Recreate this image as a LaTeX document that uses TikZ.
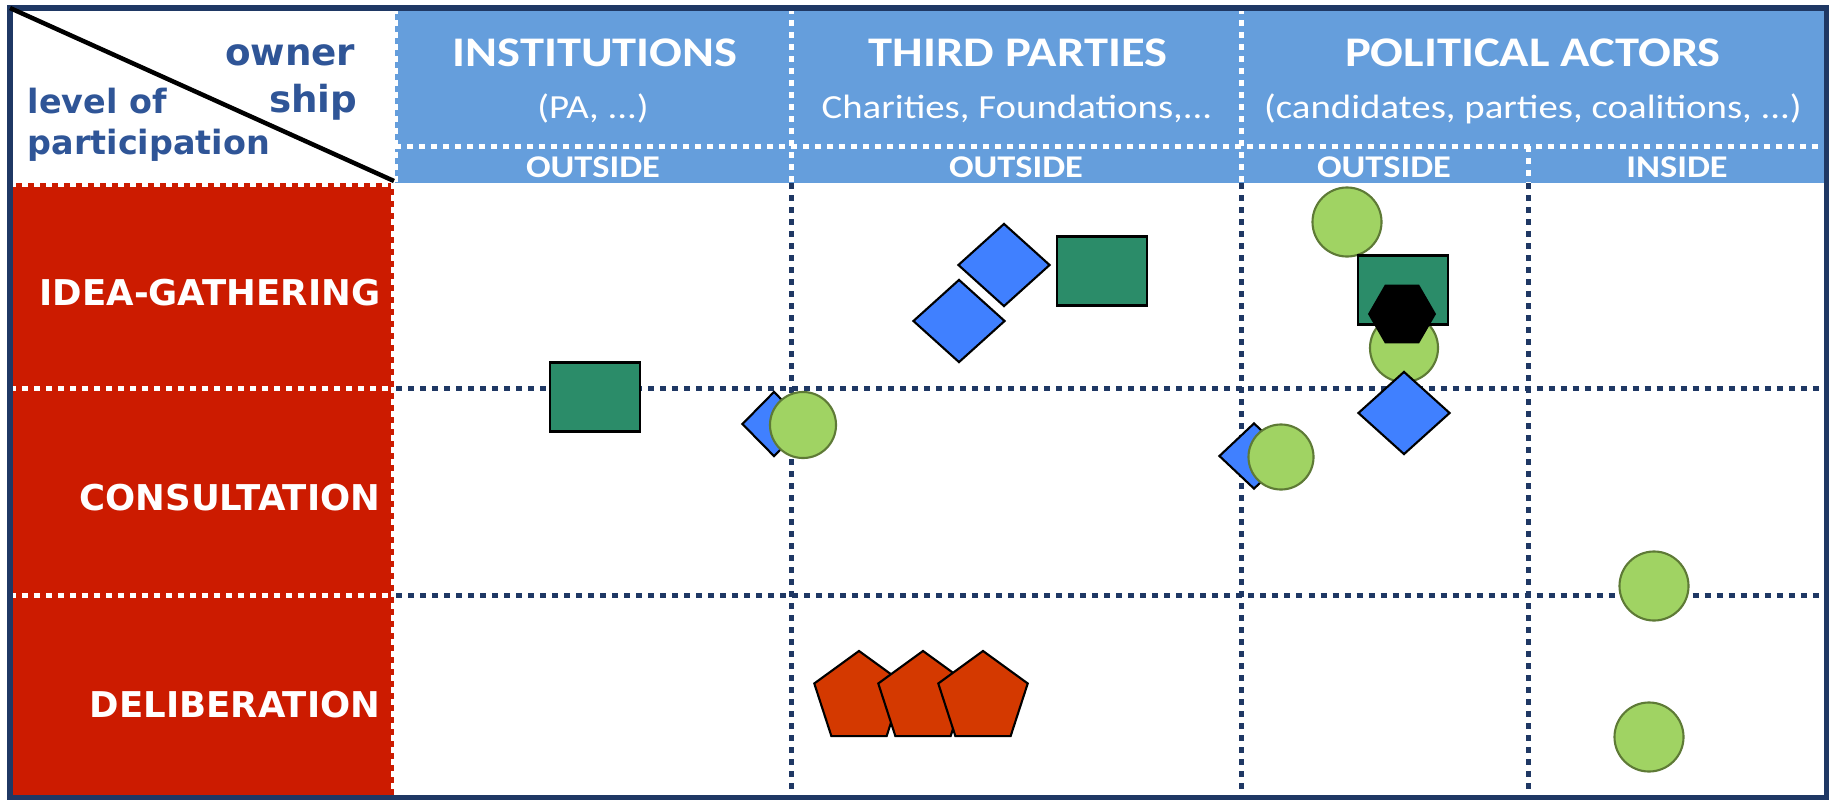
\documentclass[tikz,border=0pt]{standalone}
\usepackage{fontspec}
\usetikzlibrary{shapes.geometric}
\newfontfamily\vfont{DejaVu Sans}
\newfontfamily\cfont[FakeStretch=1.15]{Carlito}

\definecolor{marco}{HTML}{1F3864}
\definecolor{cabecera}{HTML}{659EDC}
\definecolor{rojo}{HTML}{CC1B00}
\definecolor{titulo}{HTML}{2F5597}
\definecolor{verdeosc}{HTML}{2B8C69}
\definecolor{azul}{HTML}{4080FF}
\definecolor{verde}{HTML}{A0D363}
\definecolor{oliva}{HTML}{5E7A36}
\definecolor{naranja}{HTML}{D43900}

\tikzset{
	puntos/.style={line width=0.05cm, dash pattern=on 0.06cm off 0.06cm},
	rect/.style={draw=black, fill=verdeosc, line width=0.6pt, minimum width=0.9cm, minimum height=0.69cm, inner sep=0pt},
	rombo/.style={diamond, draw=black, fill=azul, line width=0.6pt, minimum width=0.92cm, minimum height=0.83cm, inner sep=0pt},
	circ/.style={circle, draw=oliva, fill=verde, line width=0.6pt, minimum size=0.69cm, inner sep=0pt},
	hexa/.style={regular polygon, regular polygon sides=6, fill=black, minimum size=0.68cm, inner sep=0pt},
	penta/.style={regular polygon, regular polygon sides=5, draw=black, fill=naranja, line width=0.6pt, minimum size=0.94cm, inner sep=0pt},
	cab/.style={text=white, font=\cfont\bfseries\fontsize{12}{14}\selectfont, anchor=base},
	sub/.style={text=white, font=\cfont\fontsize{9.6}{11}\selectfont, anchor=base},
	lado/.style={text=white, font=\cfont\bfseries\fontsize{9}{11}\selectfont, anchor=base},
	fila/.style={text=white, font=\vfont\bfseries\fontsize{10.1}{12}\selectfont, anchor=base east, inner sep=0pt},
	esq/.style={text=titulo, inner sep=0pt}
}

\begin{document}
\begin{tikzpicture}[x=0.01cm, y=-0.01cm]
	\useasboundingbox (0,0) rectangle (1833,800);
	
	% Fondos de cabecera y columna de filas
	\fill[cabecera] (395,8) rectangle (1826,183);
	\fill[rojo] (10,183) rectangle (394,797);
	
	% Lineas blancas de puntos
	\draw[puntos, white] (395,146) -- (1826,146);
	\draw[puntos, white] (395,8) -- (395,183);
	\draw[puntos, white] (791,8) -- (791,183);
	\draw[puntos, white] (1241,8) -- (1241,183);
	\draw[puntos, white] (1528,146) -- (1528,183);
	\draw[puntos, white] (10,184) -- (394,184);
	\draw[puntos, white] (393,183) -- (393,797);
	\draw[puntos, white] (10,388) -- (393,388);
	\draw[puntos, white] (10,595) -- (393,595);
	
	% Cuadricula de puntos
	\draw[puntos, marco] (396,388) -- (1826,388);
	\draw[puntos, marco] (396,595) -- (1826,595);
	\draw[puntos, marco] (791,183) -- (791,797);
	\draw[puntos, marco] (1241,183) -- (1241,797);
	\draw[puntos, marco] (1528,183) -- (1528,797);
	
	% Marco y diagonal
	\draw[marco, line width=0.05cm] (10,8) rectangle (1826,797);
	\draw[black, line width=0.045cm] (10,8) -- (394,181);
	
	% Textos de la esquina
	\node[esq, anchor=base east, font=\vfont\bfseries\fontsize{10.6}{12}\selectfont] (owner) at (356,65) {owner};
	\node[esq, anchor=base east, font=\vfont\bfseries\fontsize{10.6}{12}\selectfont] (ship) at (358,112) {ship};
	\node[esq, anchor=base west, font=\vfont\bfseries\fontsize{9.5}{11}\selectfont] (level) at (27,113) {level of};
	\node[esq, anchor=base west, font=\vfont\bfseries\fontsize{9.5}{11}\selectfont] (particip) at (27,154) {participation};
	
	% Cabeceras
	\node[cab] (inst) at (595,67) {INSTITUTIONS};
	\node[sub] (inst2) at (593,118) {(PA, ...)};
	\node[cab] (third) at (1018,67) {THIRD PARTIES};
	\node[sub] (third2) at (1017,118) {Charities, Foundations,...};
	\node[cab] (polit) at (1533,67) {POLITICAL ACTORS};
	\node[sub] (polit2) at (1533,118) {(candidates, parties, coalitions, ...)};
	\node[lado] (out1) at (593,177) {OUTSIDE};
	\node[lado] (out2) at (1016,177) {OUTSIDE};
	\node[lado] (out3) at (1384,177) {OUTSIDE};
	\node[lado] (ins) at (1677,177) {INSIDE};
	
	% Filas
	\node[fila] (idea) at (381,305) {IDEA-GATHERING};
	\node[fila] (consul) at (381,510) {CONSULTATION};
	\node[fila] (delib) at (381,717) {DELIBERATION};
	
	% Figuras
	\node[rect] (r1) at (595,397) {};
	\node[rombo, minimum width=0.64cm, minimum height=0.65cm] (d1) at (774,424) {};
	\node[circ, minimum size=0.66cm] (c1) at (803,425) {};
	\node[rombo] (d2) at (1004,265) {};
	\node[rombo] (d3) at (959,321) {};
	\node[rect] (r2) at (1102,271) {};
	\node[circ] (c2) at (1347,222) {};
	\node[circ, minimum size=0.68cm] (c3) at (1404,348) {};
	\node[rect] (r3) at (1403,290) {};
	\node[hexa] (h1) at (1402,314) {};
	\node[rombo] (d4) at (1404,413) {};
	\node[rombo, minimum width=0.7cm, minimum height=0.66cm] (d5) at (1254,456) {};
	\node[circ, minimum size=0.65cm] (c4) at (1281,457) {};
	\node[circ] (c5) at (1654,586) {};
	\node[circ] (c6) at (1649,737) {};
	\node[penta] (p1) at (859,698) {};
	\node[penta] (p2) at (923,698) {};
	\node[penta] (p3) at (983,698) {};
	
\end{tikzpicture}
\end{document}
